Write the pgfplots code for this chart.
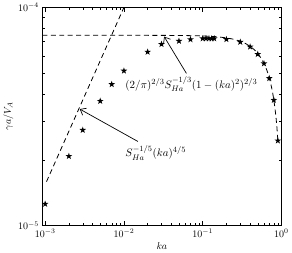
\documentclass[border=0pt]{standalone}
\usepackage{pgfplots}
\pgfplotsset{compat=1.18}
\usetikzlibrary{arrows.meta}
\pgfdeclareplotmark{fstar}{%
  \pgfpathmoveto{\pgfpointpolar{90}{\pgfplotmarksize}}%
  \pgfpathlineto{\pgfpointpolar{126}{0.4*\pgfplotmarksize}}%
  \pgfpathlineto{\pgfpointpolar{162}{\pgfplotmarksize}}%
  \pgfpathlineto{\pgfpointpolar{198}{0.4*\pgfplotmarksize}}%
  \pgfpathlineto{\pgfpointpolar{234}{\pgfplotmarksize}}%
  \pgfpathlineto{\pgfpointpolar{270}{0.4*\pgfplotmarksize}}%
  \pgfpathlineto{\pgfpointpolar{306}{\pgfplotmarksize}}%
  \pgfpathlineto{\pgfpointpolar{342}{0.4*\pgfplotmarksize}}%
  \pgfpathlineto{\pgfpointpolar{18}{\pgfplotmarksize}}%
  \pgfpathlineto{\pgfpointpolar{54}{0.4*\pgfplotmarksize}}%
  \pgfpathclose\pgfusepathqfill}
\begin{document}
\begin{tikzpicture}
\begin{axis}[
  scale only axis, width=240pt, height=219pt,
  xmode=log, ymode=log,
  xmin=9.2e-4, xmax=1, ymin=1e-5, ymax=1e-4,
  xtick={1e-3,1e-2,1e-1,1}, ytick={1e-5,1e-4},
  xlabel={$ka$}, ylabel={$\gamma a/V_A$},
  xlabel style={yshift=2pt}, ylabel style={yshift=-2pt},
  axis line style={line width=0.8pt},
  tick style={black, line width=0.4pt},
  clip=true,
]
% (ka)^{4/5} law
\addplot[black, line width=0.8pt, dash pattern=on 5pt off 3.5pt] coordinates {(1.04e-3,1.59e-5) (0.01,1e-4)};
% plateau law
\addplot[black, line width=0.8pt, dash pattern=on 5pt off 3.5pt] coordinates {
(9.2e-4,7.45e-5) (0.01,7.45e-5) (0.05,7.44e-5) (0.1,7.40e-5) (0.15,7.34e-5) (0.2,7.25e-5)
(0.25,7.14e-5) (0.3,7.00e-5) (0.35,6.83e-5) (0.4,6.63e-5) (0.45,6.41e-5) (0.5,6.15e-5)
(0.55,5.86e-5) (0.6,5.53e-5) (0.65,5.17e-5) (0.675,4.97e-5) (0.7,4.76e-5) (0.725,4.53e-5)
(0.75,4.29e-5) (0.775,4.04e-5) (0.8,3.77e-5) (0.825,3.48e-5) (0.85,3.17e-5) (0.875,2.83e-5) (0.9,2.46e-5)};
% data
\addplot[only marks, mark=fstar, mark size=3.5pt, black] coordinates {
(0.001,1.256e-5) (0.002,2.08e-5) (0.003,2.74e-5) (0.005,3.72e-5) (0.007,4.44e-5)
(0.01,5.12e-5) (0.02,6.25e-5) (0.03,6.78e-5) (0.05,7.01e-5) (0.07,7.13e-5)
(0.1,7.2e-5) (0.11,7.2e-5) (0.12,7.2e-5) (0.13,7.2e-5) (0.14,7.2e-5)
(0.2,7.14e-5) (0.3,6.94e-5) (0.4,6.6e-5) (0.5,6.1e-5) (0.6,5.53e-5)
(0.7,4.73e-5) (0.8,3.76e-5) (0.9,2.45e-5)};
\draw[-{Straight Barb[length=5pt,width=8pt]}, line width=0.7pt] (axis cs:0.0622,4.98e-5) -- (axis cs:0.0324,7.35e-5);
\draw[-{Straight Barb[length=5pt,width=8pt]}, line width=0.7pt] (axis cs:0.01503,2.43e-5) -- (axis cs:2.75e-3,3.42e-5);
\node[anchor=west, inner sep=0pt, font=\fontsize{11.2}{13}\selectfont] at (axis cs:0.0104,4.45e-5) {$(2/\pi)^{2/3}S_{Ha}^{-1/3}(1-(ka)^2)^{2/3}$};
\node[anchor=west, inner sep=0pt, font=\fontsize{11.2}{13}\selectfont] at (axis cs:0.0104,2.16e-5) {$S_{Ha}^{-1/5}(ka)^{4/5}$};
\end{axis}
\end{tikzpicture}
\end{document}
